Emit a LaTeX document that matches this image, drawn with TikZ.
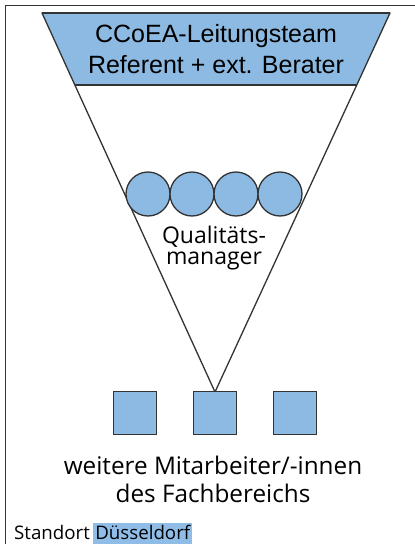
\documentclass[tikz,border=0pt]{standalone}
\usepackage{fontspec}
\setmainfont{Open Sans}
\newfontfamily\arialf{Liberation Sans}
\definecolor{fillblue}{HTML}{8DBAE2}
\definecolor{hiblue}{HTML}{8FBDE8}
\definecolor{lineg}{HTML}{333333}
\begin{document}
\begin{tikzpicture}[x=1pt,y=-1pt,
  person/.style={circle,draw=lineg,line width=1.3pt,fill=fillblue,minimum size=44pt,inner sep=0pt},
  staff/.style={rectangle,draw=lineg,line width=1.3pt,fill=fillblue,minimum size=43pt,inner sep=0pt},
  lbl/.style={align=center,inner sep=0pt}]
\useasboundingbox (0,0) rectangle (415,544);
% frame
\draw[lineg,line width=0.8pt] (5,544) -- (5,5) -- (415,5);
% funnel
\coordinate (tl) at (42,13);
\coordinate (tr) at (390,13);
\coordinate (apex) at (215,392);
\coordinate (bl) at (75,85);
\coordinate (br) at (357,85);
\fill[fillblue] (tl) -- (tr) -- (br) -- (bl) -- cycle;
\draw[lineg,line width=1.3pt,line join=round] (tl) -- (tr) -- (apex) -- cycle;
\draw[lineg,line width=2.2pt] (tl) -- (tr);
\draw[lineg,line width=1.3pt] (bl) -- (br);
\node[align=center,inner sep=0pt,font=\arialf\fontsize{25}{31}\selectfont] (head) at (216,49) {CCoEA-Leitungsteam\\Referent + ext. Berater};
% quality managers
\node[person] (c1) at (148,194) {};
\node[person] (c2) at (192,194) {};
\node[person] (c3) at (236,194) {};
\node[person] (c4) at (280,194) {};
\node[lbl,font=\fontsize{23}{21}\selectfont] (qm) at (214,248) {Qualitäts-\\manager};
% staff
\node[staff] (s1) at (135,413) {};
\node[staff] (s2) at (215,413) {};
\node[staff] (s3) at (295,413) {};
\node[lbl,font=\fontsize{24.3}{28}\selectfont] (mit) at (213,479) {weitere Mitarbeiter/-innen\\des Fachbereichs};
% location
\node[anchor=base west,inner sep=0pt,font=\fontsize{18.7}{20}\selectfont] (stand) at (14,539.5) {Standort};
\node[anchor=base west,inner xsep=2pt,inner ysep=0pt,fill=hiblue,font=\fontsize{18.7}{20}\selectfont,text depth=4.5pt,text height=17pt] (ort) at ([xshift=3pt]stand.base east) {Düsseldorf};
\end{tikzpicture}
\end{document}
